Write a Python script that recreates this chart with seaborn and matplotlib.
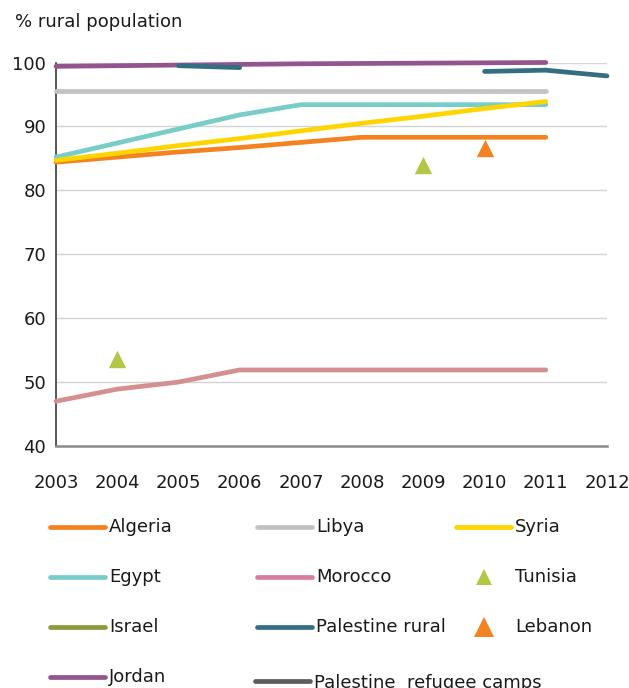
import matplotlib
matplotlib.use("Agg")
import matplotlib.pyplot as plt
from matplotlib.lines import Line2D
import seaborn as sns
import pandas as pd

# Share of population living in rural areas (%), by year
years = [2003, 2004, 2005, 2006, 2007, 2008, 2009, 2010, 2011]
algeria = [84.4, 85.2, 86.0, 86.7, 87.5, 88.3, 88.3, 88.3, 88.3]
libya = [95.6, 95.6, 95.6, 95.6, 95.6, 95.6, 95.6, 95.6, 95.6]
syria = [84.7, 85.8, 87.0, 88.1, 89.3, 90.5, 91.6, 92.8, 93.9]
egypt = [85.2, 87.4, 89.6, 91.8, 93.4, 93.4, 93.4, 93.4, 93.4]
morocco = [47.0, 48.9, 50.0, 51.9, 51.9, 51.9, 51.9, 51.9, 51.9]
jordan = [99.4, 99.5, 99.6, 99.7, 99.8, 99.85, 99.9, 99.95, 100.0]

pal_rural_years_a = [2005, 2006]
pal_rural_a = [99.5, 99.2]
pal_rural_years_b = [2010, 2011, 2012]
pal_rural_b = [98.6, 98.8, 97.9]

tunisia_years = [2004, 2009]
tunisia = [53.6, 83.9]
lebanon_years = [2010]
lebanon = [86.7]

x_ticks = list(range(2003, 2013))
y_ticks = [40, 50, 60, 70, 80, 90, 100]

C_ALGERIA = "#f58220"
C_LIBYA = "#c2c2c2"
C_SYRIA = "#ffd500"
C_EGYPT = "#78cdc8"
C_MOROCCO_LINE = "#d49090"
C_MOROCCO_KEY = "#d67ea0"
C_TUNISIA = "#b4c646"
C_ISRAEL = "#8a9c3a"
C_PAL_RURAL = "#346e82"
C_LEBANON = "#f58220"
C_JORDAN = "#94558e"
C_PAL_CAMPS = "#5c5c5c"
TEXT = "#1a1a1a"

sns.set_theme(style="white")
plt.rcParams["font.family"] = ["DejaVu Sans"]

W, H = 629, 688
fig = plt.figure(figsize=(W / 100, H / 100), dpi=100)
ax = fig.add_axes([56 / W, 1 - 446 / H, (607 - 56) / W, (446 - 62.5) / H])

LW = 3.4


def draw_line(xs, ys, color, z):
    df = pd.DataFrame({"year": xs, "value": ys})
    sns.lineplot(data=df, x="year", y="value", color=color, lw=LW, ax=ax,
                 solid_capstyle="round", zorder=z, clip_on=False)


draw_line(years, morocco, C_MOROCCO_LINE, 3)
draw_line(years, libya, C_LIBYA, 3)
draw_line(years, egypt, C_EGYPT, 3)
draw_line(years, algeria, C_ALGERIA, 4)
draw_line(years, syria, C_SYRIA, 5)
draw_line(years, jordan, C_JORDAN, 5)
draw_line(pal_rural_years_a, pal_rural_a, C_PAL_RURAL, 6)
draw_line(pal_rural_years_b, pal_rural_b, C_PAL_RURAL, 6)

sns.scatterplot(x=tunisia_years, y=tunisia, marker="^", s=12.5 ** 2,
                color=C_TUNISIA, linewidth=0, ax=ax, zorder=7)
sns.scatterplot(x=lebanon_years, y=lebanon, marker="^", s=12.5 ** 2,
                color=C_LEBANON, linewidth=0, ax=ax, zorder=7)

ax.set_xlim(2003, 2012)
ax.set_ylim(40, 100)
ax.set_xticks(x_ticks)
ax.set_yticks(y_ticks)
ax.set_xlabel("")
ax.set_ylabel("")
ax.tick_params(axis="both", length=0, labelsize=13, labelcolor=TEXT)
ax.tick_params(axis="x", pad=20)
ax.tick_params(axis="y", pad=7)

for yv in y_ticks[1:]:
    ax.axhline(yv, color="#d3d3d3", lw=1.0, zorder=1)

for side in ("top", "right"):
    ax.spines[side].set_visible(False)
ax.spines["left"].set_color("#3a3a3a")
ax.spines["left"].set_linewidth(1.2)
ax.spines["bottom"].set_color("#8a8a8a")
ax.spines["bottom"].set_linewidth(1.8)

fig.text(15 / W, 1 - 22 / H, "% rural population", fontsize=13,
         color=TEXT, va="center", ha="left")

# Key below the plot: three columns of entries
key_lines = [
    ("Algeria", C_ALGERIA, 50, 527),
    ("Egypt", C_EGYPT, 50, 577),
    ("Israel", C_ISRAEL, 50, 627),
    ("Jordan", C_JORDAN, 50, 677),
    ("Libya", C_LIBYA, 257, 527),
    ("Morocco", C_MOROCCO_KEY, 257, 577),
    ("Palestine rural", C_PAL_RURAL, 257, 627),
    ("Palestine  refugee camps", C_PAL_CAMPS, 255, 681),
    ("Syria", C_SYRIA, 456, 527),
]
for label, color, x0, yc in key_lines:
    fy = 1 - yc / H
    fig.add_artist(Line2D([x0 / W, (x0 + 55) / W], [fy, fy], color=color,
                          lw=LW, solid_capstyle="round"))
    ty = yc + 2 if label.startswith("Palestine  ") else yc
    fig.text((x0 + 59) / W, 1 - ty / H, label, fontsize=13, color=TEXT,
             va="center", ha="left")

key_markers = [
    ("Tunisia", C_TUNISIA, 577, 11),
    ("Lebanon", C_LEBANON, 627, 14.5),
]
for label, color, yc, ms in key_markers:
    fy = 1 - yc / H
    fig.add_artist(Line2D([484 / W], [fy], marker="^", color=color, lw=0,
                          markersize=ms, markeredgewidth=0))
    fig.text(515 / W, fy, label, fontsize=13, color=TEXT,
             va="center", ha="left")

fig.savefig("out.png", dpi=100)
